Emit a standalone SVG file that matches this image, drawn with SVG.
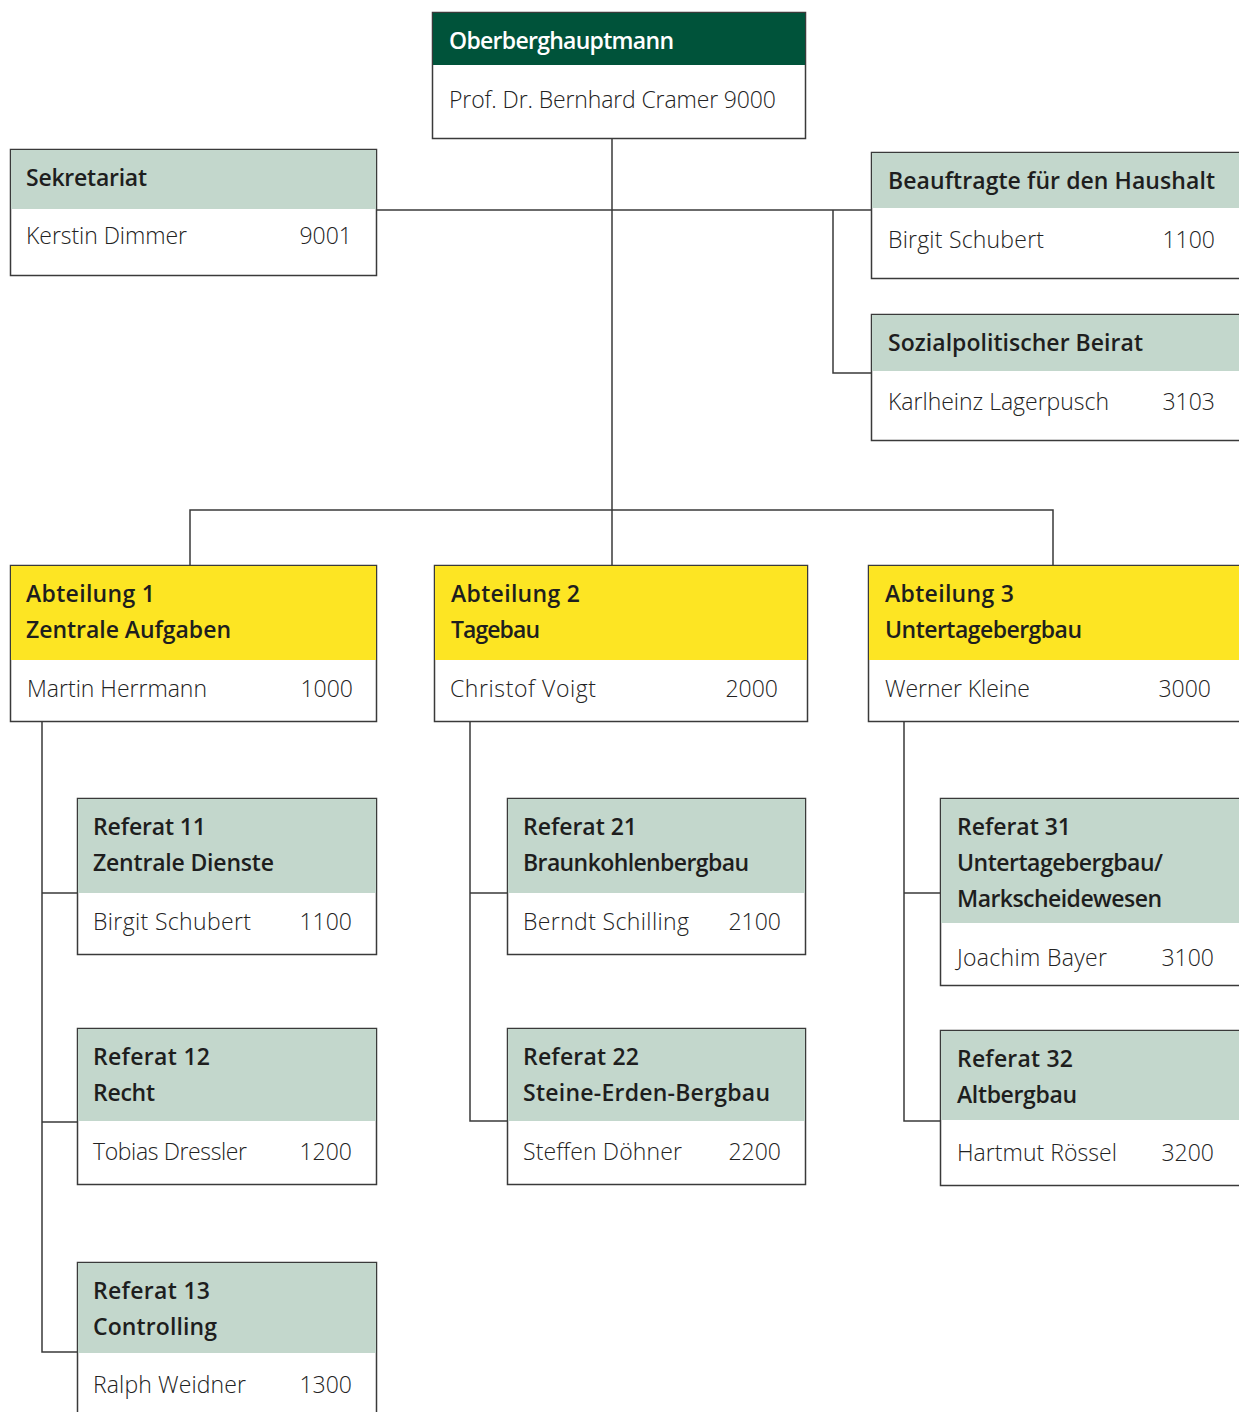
<svg xmlns="http://www.w3.org/2000/svg" width="1239" height="1412" viewBox="0 0 1239 1412">
<style>
.box{fill:#fff;stroke:#3a3a3a;stroke-width:1.5}
.hg{fill:#c3d7cc}
.hy{fill:#fde523}
.hd{fill:#00533a}
.t{font-family:"Open Sans","Liberation Sans",sans-serif;font-size:23px;font-weight:600;fill:#1e1e1e}
.tw{font-family:"Open Sans","Liberation Sans",sans-serif;font-size:23px;font-weight:600;fill:#ffffff}
.n{font-family:"Open Sans","Liberation Sans",sans-serif;font-size:23px;font-weight:300;fill:#222}
.num{font-family:"Open Sans","Liberation Sans",sans-serif;font-size:23px;font-weight:300;fill:#222;text-anchor:end}
.c{fill:none;stroke:#3a3a3a;stroke-width:1.5}
</style>
<rect width="1239" height="1412" fill="#fff"/>
<g id="connectors">
<path class="c" d="M612 139V565"/>
<path class="c" d="M377 210H871"/>
<path class="c" d="M833 210V373H871"/>
<path class="c" d="M190 565V510H1053V565"/>
<path class="c" d="M42 722V1352H77"/>
<path class="c" d="M42 893H77M42 1122H77"/>
<path class="c" d="M470 722V1121H507M470 893H507"/>
<path class="c" d="M904 722V1121H940M904 893H940"/>
</g>
<g id="oberberghauptmann">
<rect class="box" x="432.5" y="12.5" width="373" height="126"/>
<rect class="hd" x="433" y="13" width="372" height="52"/>
<text class="tw" x="449" y="49" textLength="225" lengthAdjust="spacing">Oberberghauptmann</text>
<text class="n" x="449" y="108" textLength="327" lengthAdjust="spacing">Prof. Dr. Bernhard Cramer 9000</text>
</g>
<g id="sekretariat">
<rect class="box" x="10.5" y="149.5" width="366" height="126"/>
<rect class="hg" x="11" y="150" width="365" height="59"/>
<text class="t" x="26" y="186" textLength="121" lengthAdjust="spacing">Sekretariat</text>
<text class="n" x="26" y="244" textLength="161" lengthAdjust="spacing">Kerstin Dimmer</text>
<text class="num" x="352" y="244">9001</text>
</g>
<g id="haushalt">
<rect class="box" x="871.5" y="152.5" width="380" height="126"/>
<rect class="hg" x="872" y="153" width="367" height="55"/>
<text class="t" x="888" y="189" textLength="327" lengthAdjust="spacing">Beauftragte für den Haushalt</text>
<text class="n" x="888" y="248" textLength="156" lengthAdjust="spacing">Birgit Schubert</text>
<text class="num" x="1215" y="248">1100</text>
</g>
<g id="beirat">
<rect class="box" x="871.5" y="314.5" width="380" height="126"/>
<rect class="hg" x="872" y="315" width="367" height="56"/>
<text class="t" x="888" y="351" textLength="255" lengthAdjust="spacing">Sozialpolitischer Beirat</text>
<text class="n" x="888" y="410" textLength="221" lengthAdjust="spacing">Karlheinz Lagerpusch</text>
<text class="num" x="1215" y="410">3103</text>
</g>
<g id="abteilung1">
<rect class="box" x="10.5" y="565.5" width="366" height="156"/>
<rect class="hy" x="11" y="566" width="365" height="94"/>
<text class="t" x="26" y="602" textLength="129" lengthAdjust="spacing">Abteilung 1</text>
<text class="t" x="26" y="638" textLength="205" lengthAdjust="spacing">Zentrale Aufgaben</text>
<text class="n" x="27" y="697" textLength="180" lengthAdjust="spacing">Martin Herrmann</text>
<text class="num" x="353" y="697">1000</text>
</g>
<g id="abteilung2">
<rect class="box" x="434.5" y="565.5" width="373" height="156"/>
<rect class="hy" x="435" y="566" width="372" height="94"/>
<text class="t" x="451" y="602" textLength="129" lengthAdjust="spacing">Abteilung 2</text>
<text class="t" x="451" y="638" textLength="89" lengthAdjust="spacing">Tagebau</text>
<text class="n" x="450" y="697" textLength="146" lengthAdjust="spacing">Christof Voigt</text>
<text class="num" x="778" y="697">2000</text>
</g>
<g id="abteilung3">
<rect class="box" x="868.5" y="565.5" width="383" height="156"/>
<rect class="hy" x="869" y="566" width="370" height="94"/>
<text class="t" x="885" y="602" textLength="129" lengthAdjust="spacing">Abteilung 3</text>
<text class="t" x="885" y="638" textLength="197" lengthAdjust="spacing">Untertagebergbau</text>
<text class="n" x="885" y="697" textLength="145" lengthAdjust="spacing">Werner Kleine</text>
<text class="num" x="1211" y="697">3000</text>
</g>
<g id="referat11">
<rect class="box" x="77.5" y="798.5" width="299" height="156"/>
<rect class="hg" x="78" y="799" width="298" height="94"/>
<text class="t" x="93" y="835" textLength="113" lengthAdjust="spacing">Referat 11</text>
<text class="t" x="93" y="871" textLength="181" lengthAdjust="spacing">Zentrale Dienste</text>
<text class="n" x="93" y="930" textLength="158" lengthAdjust="spacing">Birgit Schubert</text>
<text class="num" x="352" y="930">1100</text>
</g>
<g id="referat12">
<rect class="box" x="77.5" y="1028.5" width="299" height="156"/>
<rect class="hg" x="78" y="1029" width="298" height="92"/>
<text class="t" x="93" y="1065" textLength="117" lengthAdjust="spacing">Referat 12</text>
<text class="t" x="93" y="1101" textLength="62" lengthAdjust="spacing">Recht</text>
<text class="n" x="93" y="1160" textLength="154" lengthAdjust="spacing">Tobias Dressler</text>
<text class="num" x="352" y="1160">1200</text>
</g>
<g id="referat13">
<rect class="box" x="77.5" y="1262.5" width="299" height="170"/>
<rect class="hg" x="78" y="1263" width="298" height="90"/>
<text class="t" x="93" y="1299" textLength="117" lengthAdjust="spacing">Referat 13</text>
<text class="t" x="93" y="1335" textLength="124" lengthAdjust="spacing">Controlling</text>
<text class="n" x="93" y="1393" textLength="153" lengthAdjust="spacing">Ralph Weidner</text>
<text class="num" x="352" y="1393">1300</text>
</g>
<g id="referat21">
<rect class="box" x="507.5" y="798.5" width="298" height="156"/>
<rect class="hg" x="508" y="799" width="297" height="94"/>
<text class="t" x="523" y="835" textLength="114" lengthAdjust="spacing">Referat 21</text>
<text class="t" x="523" y="871" textLength="226" lengthAdjust="spacing">Braunkohlenbergbau</text>
<text class="n" x="523" y="930" textLength="166" lengthAdjust="spacing">Berndt Schilling</text>
<text class="num" x="781" y="930">2100</text>
</g>
<g id="referat22">
<rect class="box" x="507.5" y="1028.5" width="298" height="156"/>
<rect class="hg" x="508" y="1029" width="297" height="92"/>
<text class="t" x="523" y="1065" textLength="116" lengthAdjust="spacing">Referat 22</text>
<text class="t" x="523" y="1101" textLength="247" lengthAdjust="spacing">Steine-Erden-Bergbau</text>
<text class="n" x="523" y="1160" textLength="159" lengthAdjust="spacing">Steffen Döhner</text>
<text class="num" x="781" y="1160">2200</text>
</g>
<g id="referat31">
<rect class="box" x="940.5" y="798.5" width="311" height="187"/>
<rect class="hg" x="941" y="799" width="298" height="124"/>
<text class="t" x="957" y="835" textLength="114" lengthAdjust="spacing">Referat 31</text>
<text class="t" x="957" y="871" textLength="206" lengthAdjust="spacing">Untertagebergbau/</text>
<text class="t" x="957" y="907" textLength="205" lengthAdjust="spacing">Markscheidewesen</text>
<text class="n" x="957" y="966" textLength="150" lengthAdjust="spacing">Joachim Bayer</text>
<text class="num" x="1214" y="966">3100</text>
</g>
<g id="referat32">
<rect class="box" x="940.5" y="1030.5" width="311" height="155"/>
<rect class="hg" x="941" y="1031" width="298" height="89"/>
<text class="t" x="957" y="1067" textLength="116" lengthAdjust="spacing">Referat 32</text>
<text class="t" x="957" y="1103" textLength="120" lengthAdjust="spacing">Altbergbau</text>
<text class="n" x="957" y="1161" textLength="160" lengthAdjust="spacing">Hartmut Rössel</text>
<text class="num" x="1214" y="1161">3200</text>
</g>
</svg>
